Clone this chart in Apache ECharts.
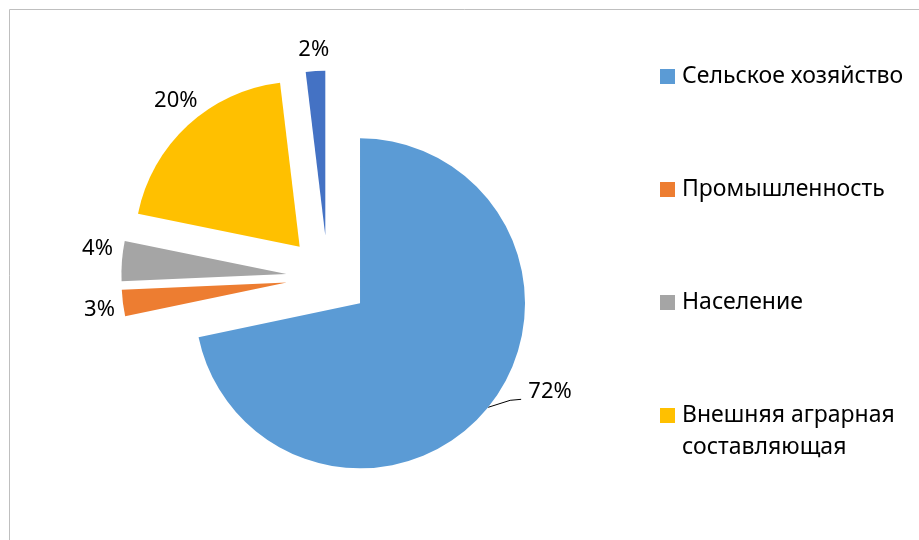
<!DOCTYPE html>
<html>
<head>
<meta charset="utf-8">
<style>
  html, body { margin: 0; padding: 0; background: #fff; }
  #chart { width: 919px; height: 540px; }
</style>
</head>
<body>
<div id="chart"></div>
<script src="https://cdn.jsdelivr.net/npm/echarts@6/dist/echarts.min.js"></script>
<script>
  // структура, доли в %
  var categories = ['Сельское хозяйство', 'Промышленность', 'Население', 'Внешняя аграрная составляющая', 'Прочее'];
  var shares = [71.7, 2.6, 3.9, 19.9, 1.9];
  var legendNames = ['Сельское хозяйство', 'Промышленность', 'Население', 'Внешняя аграрная составляющая'];

  var colors = ['#5B9BD5', '#ED7D31', '#A5A5A5', '#FFC000', '#4472C4'];
  var FONT = '"Noto Sans", sans-serif';

  // подписи: длины выносок и небольшие сдвиги
  var labelLines = [
    { show: true, length: 8, length2: 12 },
    { show: false, length: 3, length2: 0 },
    { show: false, length: 4, length2: 0 },
    { show: false, length: 33, length2: 0 },
    { show: false, length: 21, length2: 0 }
  ];
  var labelNudge = [[17, -21], [0, 6], [0, -12], [37, 0], [20, 0]];
  // излом выноски у 72% относительно точки на дуге
  var leaderBend = [[22, -7], [33, -8]];

  var chart = echarts.init(document.getElementById('chart'), null, { renderer: 'canvas' });

  var pieData = categories.map(function (name, i) {
    return {
      name: name,
      value: shares[i],
      selected: true,
      itemStyle: { color: colors[i] },
      labelLine: labelLines[i]
    };
  });

  chart.setOption({
    animation: false,
    backgroundColor: '#fff',
    graphic: [{
      type: 'rect',
      shape: { x: 9.5, y: 9.5, width: 1000, height: 1000 },
      style: { fill: 'none', stroke: '#BFBFBF', lineWidth: 1 },
      silent: true
    }],
    legend: {
      orient: 'vertical',
      left: 660,
      top: 28.5,
      padding: 0,
      itemWidth: 15,
      itemHeight: 15,
      itemGap: 17,
      icon: 'rect',
      selectedMode: false,
      // three lines each, the name's first line in the middle -> next to the square
      formatter: function (name) {
        if (name.indexOf('аграрная ') >= 0) return ' \n' + name.replace('аграрная ', 'аграрная\n');
        return ' \n' + name + '\n ';
      },
      textStyle: {
        fontFamily: FONT,
        fontSize: 23,
        color: '#000',
        lineHeight: 32,
        padding: [0, 0, 0, 2]
      },
      data: legendNames
    },
    series: [{
      type: 'pie',
      center: [327.8, 277.2],
      radius: 165,
      startAngle: 90,
      clockwise: true,
      selectedMode: 'multiple',
      selectedOffset: 41.5,
      avoidLabelOverlap: false,
      itemStyle: { borderWidth: 0 },
      label: {
        show: true,
        position: 'outside',
        fontFamily: FONT,
        fontSize: 22,
        color: '#000',
        formatter: function (p) { return Math.round(p.value) + '%'; }
      },
      labelLine: {
        lineStyle: { color: '#000', width: 1 }
      },
      labelLayout: function (params) {
        var n = labelNudge[params.dataIndex];
        var out = { dx: n[0], dy: n[1] };
        if (params.dataIndex === 0 && params.labelLinePoints) {
          var p0 = params.labelLinePoints[0];
          out.labelLinePoints = [p0].concat(leaderBend.map(function (b) {
            return [p0[0] + b[0], p0[1] + b[1]];
          }));
        }
        return out;
      },
      emphasis: { scale: false },
      data: pieData
    }]
  });
</script>
</body>
</html>
